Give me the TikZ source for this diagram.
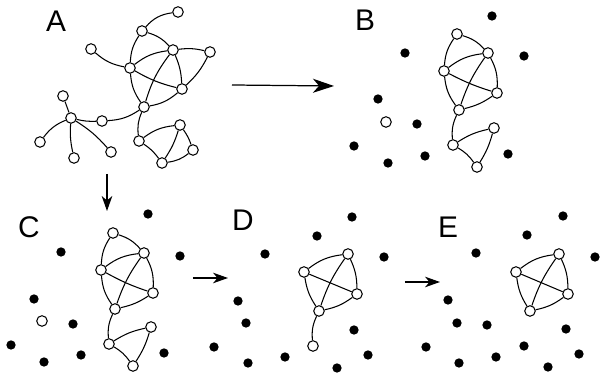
\documentclass[tikz,border=0pt]{standalone}
\usepackage{fontspec}
\setmainfont{Liberation Sans}
\usetikzlibrary{arrows.meta, positioning}

\tikzset{
  vtx/.style={circle, draw, fill=white, line width=0.6pt, inner sep=0pt, minimum size=6pt},
  fulldot/.style={circle, fill=black, inner sep=0pt, minimum size=5.3pt},
  lbl/.style={font=\fontsize{17}{20}\selectfont},
  edge/.style={line width=0.6pt},
  stage/.style={line width=0.7pt, -{Stealth[length=8.5pt, width=6pt, inset=2.5pt]}}
}

\begin{document}
\begin{tikzpicture}[x=0.02cm, y=0.02cm]
  \useasboundingbox (0,0) rectangle (600,-377);

  % panel A
  \node[lbl] (labA) at (56,-21) {A};
  \node[vtx] (a1) at (178,-12) {};
  \node[vtx] (a2) at (142,-31) {};
  \node[vtx] (a3) at (173,-50) {};
  \node[vtx] (a4) at (210,-52) {};
  \node[vtx] (a5) at (91,-49) {};
  \node[vtx] (a6) at (130,-68) {};
  \node[vtx] (a7) at (182,-89) {};
  \node[vtx] (a8) at (144,-107) {};
  \node[vtx] (a9) at (63,-96) {};
  \node[vtx] (a10) at (71,-118) {};
  \node[vtx] (a11) at (102,-121) {};
  \node[vtx] (a12) at (40,-142) {};
  \node[vtx] (a13) at (74,-158) {};
  \node[vtx] (a14) at (111,-152) {};
  \node[vtx] (a15) at (139,-141) {};
  \node[vtx] (a16) at (180,-125) {};
  \node[vtx] (a17) at (193,-150) {};
  \node[vtx] (a18) at (162,-163) {};
  \draw[edge] (a2) to[bend left=20] (a1);
  \draw[edge] (a2) to[bend right=15] (a6);
  \draw[edge] (a2) to[bend left=15] (a3);
  \draw[edge] (a3) to[bend left=10] (a4);
  \draw[edge] (a4) to[bend left=10] (a7);
  \draw[edge] (a3) to[bend left=10] (a7);
  \draw[edge] (a3) to[bend right=15] (a6);
  \draw[edge] (a3) to[bend right=10] (a8);
  \draw[edge] (a5) to[bend right=15] (a6);
  \draw[edge] (a6) to[bend right=8] (a7);
  \draw[edge] (a6) to[bend right=15] (a8);
  \draw[edge] (a7) to[bend left=15] (a8);
  \draw[edge] (a8) to[bend left=15] (a11);
  \draw[edge] (a11) to[bend left=8] (a10);
  \draw[edge] (a10) -- (a9);
  \draw[edge] (a10) to[bend right=15] (a12);
  \draw[edge] (a10) to[bend right=8] (a13);
  \draw[edge] (a10) to[bend left=8] (a14);
  \draw[edge] (a8) to[bend right=15] (a15);
  \draw[edge] (a15) to[bend left=15] (a16);
  \draw[edge] (a15) to[bend left=10] (a18);
  \draw[edge] (a16) to[bend left=8] (a17);
  \draw[edge] (a17) to[bend left=15] (a18);
  \draw[edge] (a16) to[bend left=8] (a18);

  % panel B
  \node[lbl] (labB) at (365,-20) {B};
  \node[vtx] (b1) at (457,-34) {};
  \node[vtx] (b2) at (488,-53) {};
  \node[vtx] (b3) at (444,-71) {};
  \node[vtx] (b4) at (497,-93) {};
  \node[vtx] (b5) at (459,-110) {};
  \node[vtx] (b6) at (494,-128) {};
  \node[vtx] (b7) at (453,-145) {};
  \node[vtx] (b8) at (477,-167) {};
  \node[vtx] (bfree) at (386,-122) {};
  \foreach \x/\y [count=\i] in {492/16, 405/53, 524/56, 378/99, 417/124, 354/146, 388/163, 425/156, 508/154}
    \node[fulldot] (bdot\i) at (\x,-\y) {};

  % panel C
  \node[lbl] (labC) at (29,-227) {C};
  \node[vtx] (c1) at (113,-233) {};
  \node[vtx] (c2) at (144,-253) {};
  \node[vtx] (c3) at (101,-270) {};
  \node[vtx] (c4) at (153,-293) {};
  \node[vtx] (c5) at (115,-309) {};
  \node[vtx] (c6) at (151,-327) {};
  \node[vtx] (c7) at (109,-344) {};
  \node[vtx] (c8) at (133,-366) {};
  \node[vtx] (cfree) at (42,-321) {};
  \foreach \x/\y [count=\i] in {148/214, 61/252, 180/256, 34/299, 73/324, 11/345, 44/362, 81/355, 164/353}
    \node[fulldot] (cdot\i) at (\x,-\y) {};

  % same component in B and C
  \foreach \p in {b,c} {
    \draw[edge] (\p1) to[bend left=15] (\p2);
    \draw[edge] (\p1) to[bend right=15] (\p3);
    \draw[edge] (\p3) to[bend left=15] (\p2);
    \draw[edge] (\p2) to[bend left=15] (\p4);
    \draw[edge] (\p2) to[bend right=8] (\p5);
    \draw[edge] (\p3) to[bend right=5] (\p4);
    \draw[edge] (\p3) to[bend right=15] (\p5);
    \draw[edge] (\p5) to[bend right=10] (\p4);
    \draw[edge] (\p5) to[bend right=15] (\p7);
    \draw[edge] (\p7) to[bend left=10] (\p6);
    \draw[edge] (\p6) to[bend left=8] (\p8);
    \draw[edge] (\p7) to[bend left=12] (\p8);
  }

  % panel D
  \node[lbl] (labD) at (243,-220) {D};
  \node[vtx] (d1) at (348,-254) {};
  \node[vtx] (d2) at (304,-272) {};
  \node[vtx] (d3) at (357,-294) {};
  \node[vtx] (d4) at (319,-311) {};
  \node[vtx] (d5) at (313,-346) {};
  \foreach \x/\y [count=\i] in {352/217, 317/236, 265/254, 384/257, 238/301, 246/323, 354/330, 214/347, 248/363, 285/357, 368/355, 337/368}
    \node[fulldot] (ddot\i) at (\x,-\y) {};

  % panel E
  \node[lbl] (labE) at (448,-227) {E};
  \node[vtx] (e1) at (559,-254) {};
  \node[vtx] (e2) at (516,-272) {};
  \node[vtx] (e3) at (568,-294) {};
  \node[vtx] (e4) at (530,-311) {};
  \foreach \x/\y [count=\i] in {563/216, 527/235, 476/253, 595/257, 448/300, 457/323, 487/325, 566/329, 426/347, 459/363, 496/357, 524/346, 579/354, 548/367}
    \node[fulldot] (edot\i) at (\x,-\y) {};

  % same component in D and E
  \foreach \p in {d,e} {
    \draw[edge] (\p2) to[bend left=15] (\p1);
    \draw[edge] (\p1) to[bend left=12] (\p3);
    \draw[edge] (\p1) to[bend right=8] (\p4);
    \draw[edge] (\p2) -- (\p3);
    \draw[edge] (\p2) to[bend right=12] (\p4);
    \draw[edge] (\p4) to[bend right=12] (\p3);
  }
  \draw[edge] (d4) to[bend right=15] (d5);

  % stage arrows
  \coordinate (ab0) at (232,-85);
  \coordinate (ab1) at (334,-86);
  \draw[stage, -{Stealth[length=12pt, width=8pt, inset=3.5pt]}] (ab0) -- (ab1);
  \coordinate (ac0) at (107,-174);
  \coordinate (ac1) at (107,-211);
  \draw[stage] (ac0) -- (ac1);
  \coordinate (cd0) at (193,-278);
  \coordinate (cd1) at (228,-278);
  \draw[stage] (cd0) -- (cd1);
  \coordinate (de0) at (405,-282);
  \coordinate (de1) at (440,-282);
  \draw[stage] (de0) -- (de1);
\end{tikzpicture}
\end{document}
